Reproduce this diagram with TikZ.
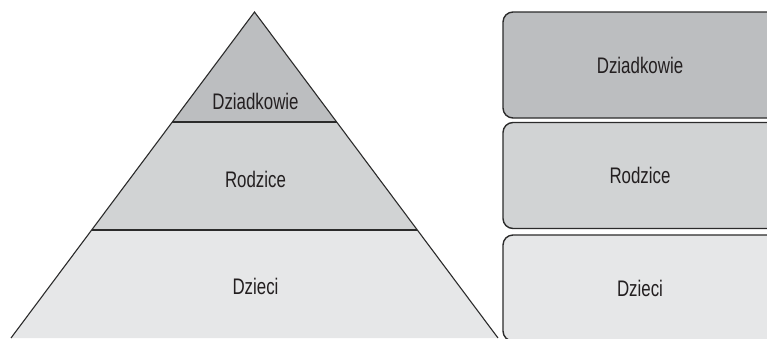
\documentclass[tikz,border=0pt]{standalone}
\usepackage{fontspec}
\setmainfont{Liberation Sans}[FakeStretch=0.75]
\usetikzlibrary{positioning}
\definecolor{tierA}{HTML}{BCBEC0}
\definecolor{tierB}{HTML}{D1D3D4}
\definecolor{tierC}{HTML}{E6E7E8}
\definecolor{edge}{HTML}{2B2B2B}
\definecolor{ink}{HTML}{231F20}

\begin{document}
\begin{tikzpicture}[x=1pt,y=-1pt,
  label/.style={text=ink, font=\fontsize{22.5}{25}\selectfont},
  tierbox/.style={draw=edge, line width=1.4pt, rounded corners=10pt,
    minimum width=274pt, minimum height=106pt, label}]
  \clip (0,0) rectangle (767,338);
  % pyramid
  \coordinate (apex) at (254.5,12);
  \coordinate (l1) at (172.3,122);
  \coordinate (r1) at (336.7,122);
  \coordinate (l2) at (91.7,230);
  \coordinate (r2) at (417.3,230);
  \coordinate (l3) at (11,338);
  \coordinate (r3) at (498,338);
  \fill[tierA] (apex) -- (l1) -- (r1) -- cycle;
  \fill[tierB] (l1) -- (l2) -- (r2) -- (r1) -- cycle;
  \fill[tierC] (l2) -- (l3) -- (r3) -- (r2) -- cycle;
  \draw[edge, line width=1.1pt] (l3) -- (apex) -- (r3);
  \draw[edge, line width=1.1pt] (l1) -- (r1);
  \draw[edge, line width=1.1pt] (l2) -- (r2);
  \node[label] (pa) at (255.5,101) {Dziadkowie};
  \node[label] (pb) at (255.5,179) {Rodzice};
  \node[label] (pc) at (255.5,286) {Dzieci};
  % boxes
  \node[tierbox, fill=tierA] (ba) at (640,65) {Dziadkowie};
  \node[tierbox, fill=tierB] (bb) at (640,175.5) {Rodzice};
  \node[tierbox, fill=tierC] (bc) at (640,288) {Dzieci};
\end{tikzpicture}
\end{document}
